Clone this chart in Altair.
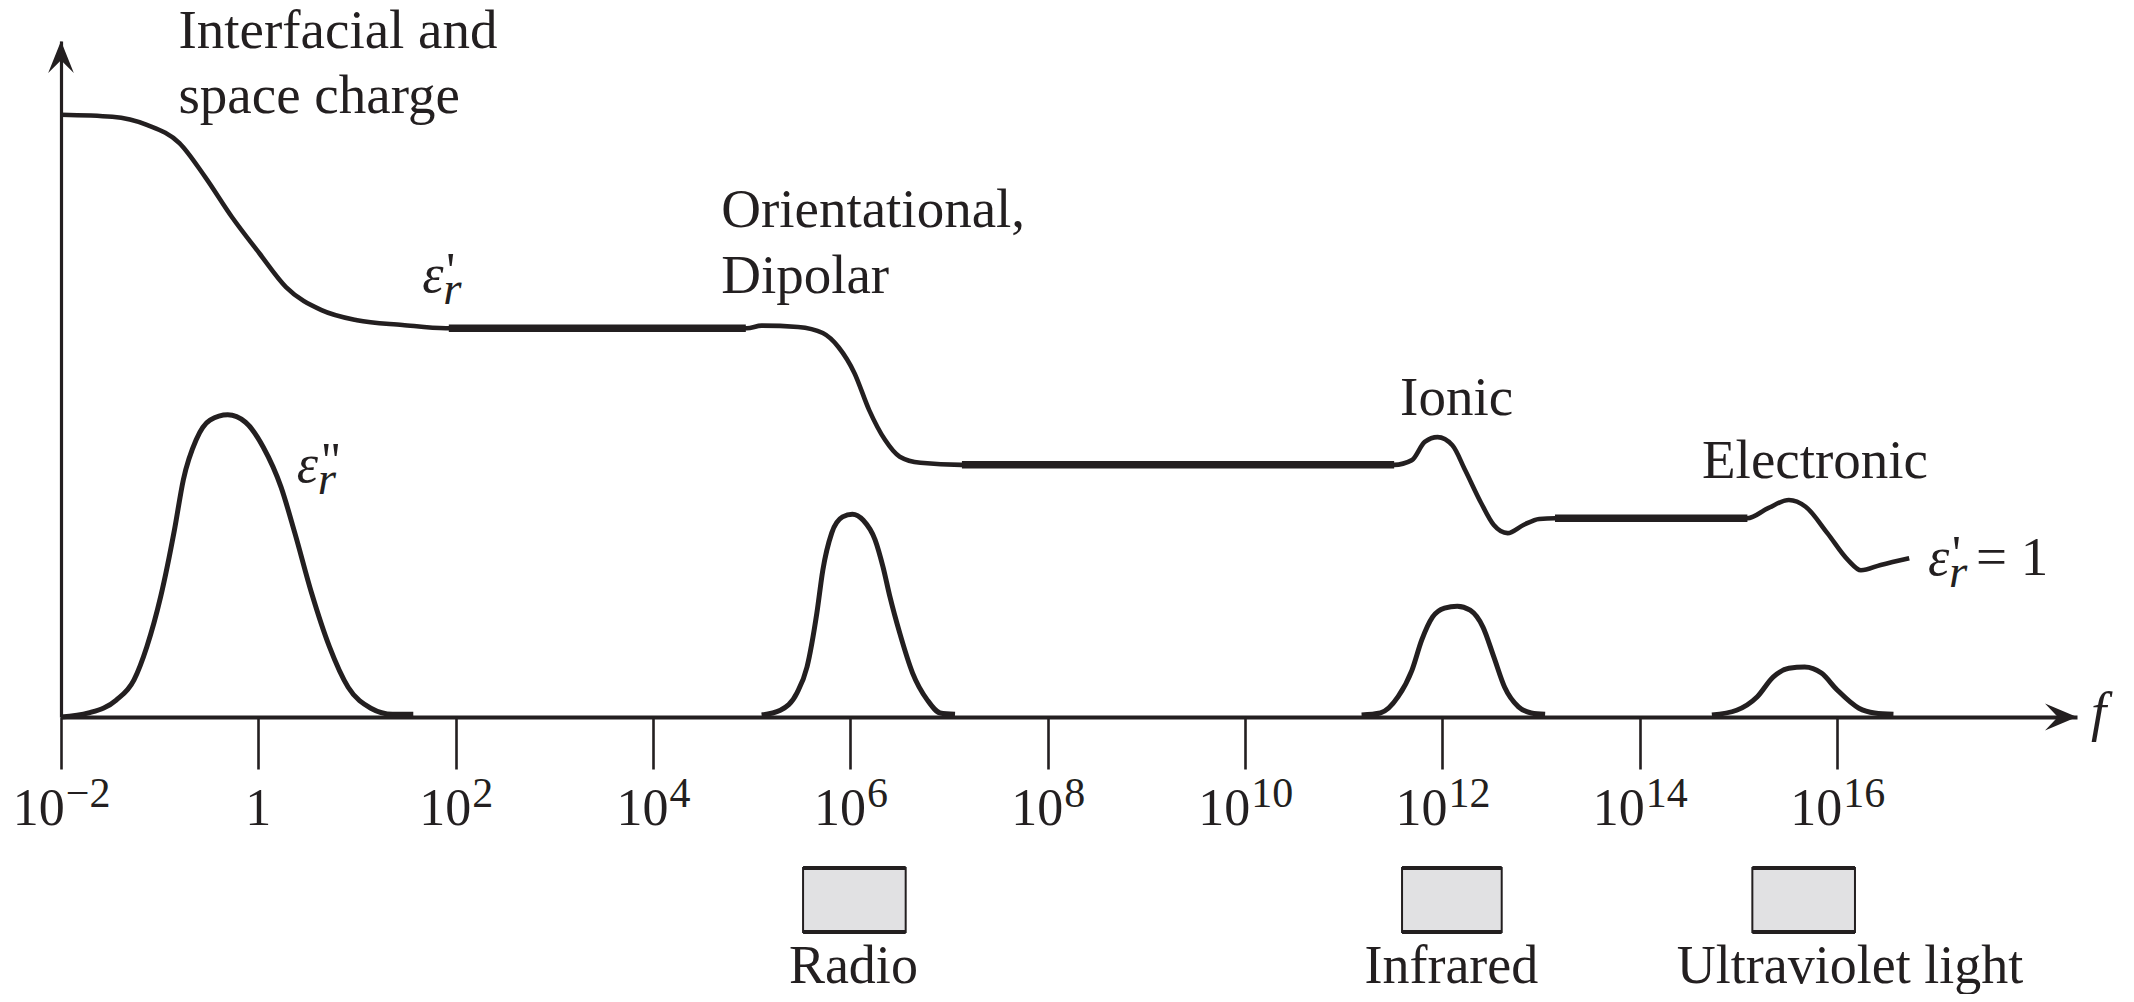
import altair as alt
import pandas as pd

# ---------------- data (log10 f, height in arbitrary units, axis = 0, top = 100) ----------------
eps_re_logf = [-2.0, -1.48, -1.13, -0.80, -0.54, -0.27, 0.01, 0.28, 0.64, 1.00, 1.46, 1.90,
               4.95, 5.10, 5.47, 5.72, 5.88, 6.04, 6.19, 6.35, 6.50, 6.71, 7.12,
               11.51, 11.69, 11.82, 11.95, 12.10, 12.23, 12.39, 12.52, 12.66, 12.82, 12.98, 13.14,
               15.09, 15.30, 15.51, 15.68, 15.90, 16.11, 16.24, 16.44, 16.73]
eps_re_h = [89.1, 88.8, 87.6, 84.9, 79.9, 74.0, 68.6, 63.6, 60.2, 58.7, 58.0, 57.5,
            57.5, 57.9, 57.7, 56.8, 54.7, 50.9, 45.4, 41.0, 38.5, 37.6, 37.3,
            37.3, 38.0, 40.7, 41.4, 40.2, 36.5, 31.7, 28.4, 27.2, 28.4, 29.3, 29.4,
            29.4, 30.9, 32.1, 31.1, 27.2, 23.2, 21.7, 22.5, 23.5]

# plateaus of eps' drawn with a heavier stroke
plateau_start = [1.93, 7.13, 13.14]
plateau_end = [4.94, 11.51, 15.09]
plateau_h = [57.5, 37.3, 29.4]

# loss peaks eps''
p1_logf = [-2.0, -1.72, -1.44, -1.26, -1.13, -0.99, -0.85, -0.76, -0.63, -0.49, -0.31, -0.13,
           0.05, 0.23, 0.37, 0.54, 0.72, 0.91, 1.14, 1.36, 1.57]
p1_h = [0.0, 0.6, 2.5, 5.5, 10.4, 17.8, 27.7, 35.1, 41.0, 43.9, 44.7, 43.6,
        39.9, 34.0, 27.2, 18.3, 10.4, 4.4, 1.3, 0.4, 0.4]
p2_logf = [5.10, 5.29, 5.46, 5.56, 5.66, 5.72, 5.81, 5.92, 6.02, 6.13, 6.25, 6.33, 6.40, 6.50,
           6.63, 6.78, 6.91, 7.06]
p2_h = [0.3, 1.0, 3.6, 7.4, 15.4, 21.7, 27.2, 29.6, 30.0, 29.1, 26.2, 22.2, 17.8, 12.4,
        6.5, 2.5, 0.6, 0.4]
p3_logf = [11.18, 11.37, 11.55, 11.69, 11.79, 11.90, 12.02, 12.15, 12.28, 12.41, 12.52, 12.63,
           12.77, 12.90, 13.04]
p3_h = [0.3, 0.6, 3.0, 6.9, 11.4, 14.8, 16.1, 16.4, 15.8, 13.3, 8.9, 4.4, 1.5, 0.6, 0.4]
p4_logf = [14.73, 14.98, 15.19, 15.35, 15.51, 15.67, 15.84, 16.00, 16.22, 16.38, 16.57]
p4_h = [0.3, 1.0, 3.0, 5.9, 7.2, 7.4, 6.5, 4.0, 1.3, 0.6, 0.4]

# x ticks (log10 f)
tick_logf = [-2, 0, 2, 4, 6, 8, 10, 12, 14, 16]

# text annotations (left edge log10 f, baseline height)
ann_text = ["Interfacial and", "space charge", "Orientational,", "Dipolar", "Ionic", "Electronic"]
ann_logf = [-0.81, -0.81, 4.69, 4.69, 11.57, 14.63]
ann_h = [98.96, 89.35, 72.49, 62.72, 44.67, 35.36]

# epsilon symbol labels
eps_lab_logf = [1.66, 0.39, 16.92]
eps_lab_h = [62.87, 34.76, 21.0]
eps_lab_prime = ["'", '"', "'"]
eps_lab_suffix = ["", "", "= 1"]

# spectrum bands
band_name = ["Radio", "Infrared", "Ultraviolet light"]
band_lo = [5.52, 11.59, 15.14]
band_hi = [6.56, 12.60, 16.18]
band_label_logf = [6.03, 12.09, 16.13]

# ---------------- styling ----------------
INK = "#231f20"
FONT = "Liberation Serif"
W, H = 2016, 676
XMIN, XMAX = -2.0, 18.43
YMIN, YMAX = 0, 100

xs = alt.Scale(domain=[XMIN, XMAX], nice=False, zero=False)
ys = alt.Scale(domain=[YMIN, YMAX], nice=False, zero=False)
x_axis = alt.Axis(values=tick_logf, labels=False, grid=False, ticks=True, tickSize=52,
                  tickWidth=2.6, tickColor=INK, domainColor=INK, domainWidth=3.8, title=None)
y_axis = alt.Axis(labels=False, ticks=False, grid=False, domainColor=INK, domainWidth=3.2,
                  title=None)


def X(field="logf"):
    return alt.X(f"{field}:Q", scale=xs, axis=x_axis)


def Y(field="h"):
    return alt.Y(f"{field}:Q", scale=ys, axis=y_axis)


# ---------------- frames ----------------
df_re = pd.DataFrame({"logf": eps_re_logf, "h": eps_re_h})
df_plat = pd.DataFrame({
    "logf": plateau_start + plateau_end,
    "h": plateau_h + plateau_h,
    "seg": list(range(3)) + list(range(3)),
})
loss_rows = []
for k, (lx, lh) in enumerate([(p1_logf, p1_h), (p2_logf, p2_h), (p3_logf, p3_h), (p4_logf, p4_h)]):
    for a, b in zip(lx, lh):
        loss_rows.append({"logf": a, "h": b, "peak": k})
df_loss = pd.DataFrame(loss_rows)
df_ann = pd.DataFrame({"logf": ann_logf, "h": ann_h, "text": ann_text})
df_eps = pd.DataFrame({"logf": eps_lab_logf, "h": eps_lab_h, "prime": eps_lab_prime,
                       "suffix": eps_lab_suffix})
df_band = pd.DataFrame({"name": band_name, "lo": band_lo, "hi": band_hi, "logf": band_label_logf})
df_xarrow = pd.DataFrame({"logf": [XMAX], "h": [YMIN]})
df_yarrow = pd.DataFrame({"logf": [XMIN], "h": [YMAX]})

# ---------------- layers ----------------
layers = []

layers.append(alt.Chart(df_re).mark_line(color=INK, strokeWidth=4.6, interpolate="monotone")
              .encode(x=X(), y=Y()))
layers.append(alt.Chart(df_plat).mark_line(color=INK, strokeWidth=7.5)
              .encode(x=X(), y=Y(), detail="seg:N"))
layers.append(alt.Chart(df_loss).mark_line(color=INK, strokeWidth=5, interpolate="monotone")
              .encode(x=X(), y=Y(), detail="peak:N"))

# arrowheads
layers.append(alt.Chart(df_xarrow).mark_point(
    shape="M0,0 L-2,-0.85 L-1.2,0 L-2,0.85 Z", size=1024, filled=True, fill=INK,
    strokeWidth=0, opacity=1).encode(x=X(), y=Y()))
layers.append(alt.Chart(df_yarrow).mark_point(
    shape="M0,0 L-0.8,2 L0,1.2 L0.8,2 Z", size=1024, filled=True, fill=INK,
    strokeWidth=0, opacity=1).encode(x=X(), y=Y()))

# annotations
layers.append(alt.Chart(df_ann).mark_text(font=FONT, fontSize=55, color=INK, align="left",
                                          baseline="alphabetic")
              .encode(x=X(), y=Y(), text="text:N"))

# epsilon labels
layers.append(alt.Chart(df_eps).mark_text(font=FONT, fontSize=54, fontStyle="italic", color=INK,
                                          align="left", baseline="alphabetic")
              .encode(x=X(), y=Y(), text=alt.value("ε")))
layers.append(alt.Chart(df_eps).mark_text(font=FONT, fontSize=50, color=INK, align="left",
                                          baseline="alphabetic", dx=24, dy=-5)
              .encode(x=X(), y=Y(), text="prime:N"))
layers.append(alt.Chart(df_eps).mark_text(font=FONT, fontSize=47, fontStyle="italic", color=INK,
                                          align="left", baseline="alphabetic", dx=21, dy=12)
              .encode(x=X(), y=Y(), text=alt.value("r")))
layers.append(alt.Chart(df_eps).mark_text(font=FONT, fontSize=55, color=INK, align="left",
                                          baseline="alphabetic", dx=48)
              .encode(x=X(), y=Y(), text="suffix:N"))

# tick labels: "10" + superscript exponent
BASE_FS, EXP_FS = 52, 42
BASE_Y, EXP_Y = 784, 766


def exp_text(v):
    if v == 0:
        return ""
    return ("\u2212" + str(-v)) if v < 0 else str(v)


def exp_width(s):
    return sum((0.564 if ch == "\u2212" else 0.5) for ch in s) * EXP_FS


groups = {}
for v in tick_logf:
    e = exp_text(v)
    groups.setdefault(e and round((BASE_FS - exp_width(e)) / 2, 1), []).append(v)

for split, vals in groups.items():
    gdf = pd.DataFrame({"logf": vals,
                        "base": ["1" if v == 0 else "10" for v in vals],
                        "exp": [exp_text(v) for v in vals]})
    if split == "":
        layers.append(alt.Chart(gdf).mark_text(font=FONT, fontSize=BASE_FS, color=INK,
                                               align="center", baseline="alphabetic")
                      .encode(x=X(), y=alt.value(BASE_Y), text="base:N"))
    else:
        layers.append(alt.Chart(gdf).mark_text(font=FONT, fontSize=BASE_FS, color=INK,
                                               align="right", baseline="alphabetic", dx=split)
                      .encode(x=X(), y=alt.value(BASE_Y), text="base:N"))
        layers.append(alt.Chart(gdf).mark_text(font=FONT, fontSize=EXP_FS, color=INK,
                                               align="left", baseline="alphabetic", dx=split + 1)
                      .encode(x=X(), y=alt.value(EXP_Y), text="exp:N"))

# f label
layers.append(alt.Chart(df_xarrow).mark_text(font=FONT, fontSize=55, fontStyle="italic",
                                             color=INK, align="left", baseline="alphabetic",
                                             dx=14, dy=13)
              .encode(x=X(), y=Y(), text=alt.value("f")))

# spectrum bands
BOX_TOP, BOX_BOT = 827, 891
layers.append(alt.Chart(df_band).mark_rect(fill="#e1e1e3", stroke=INK, strokeWidth=2)
              .encode(x=X("lo"), x2="hi:Q", y=alt.value(BOX_TOP), y2=alt.value(BOX_BOT)))
layers.append(alt.Chart(df_band).mark_rule(color=INK, strokeWidth=4)
              .encode(x=X("lo"), x2="hi:Q", y=alt.value(BOX_TOP)))
layers.append(alt.Chart(df_band).mark_rule(color=INK, strokeWidth=4)
              .encode(x=X("lo"), x2="hi:Q", y=alt.value(BOX_BOT)))
layers.append(alt.Chart(df_band).mark_text(font=FONT, fontSize=54, color=INK, align="center",
                                           baseline="alphabetic")
              .encode(x=X(), y=alt.value(942), text="name:N"))

chart = (
    alt.layer(*layers)
    .properties(width=W, height=H,
                padding={"left": 53, "top": 33, "right": 49, "bottom": 277},
                autosize=alt.AutoSizeParams(type="none"),
                background="white")
    .configure_view(stroke=None)
)

chart.save("out.html", embed_options={"renderer": "svg", "actions": False})
